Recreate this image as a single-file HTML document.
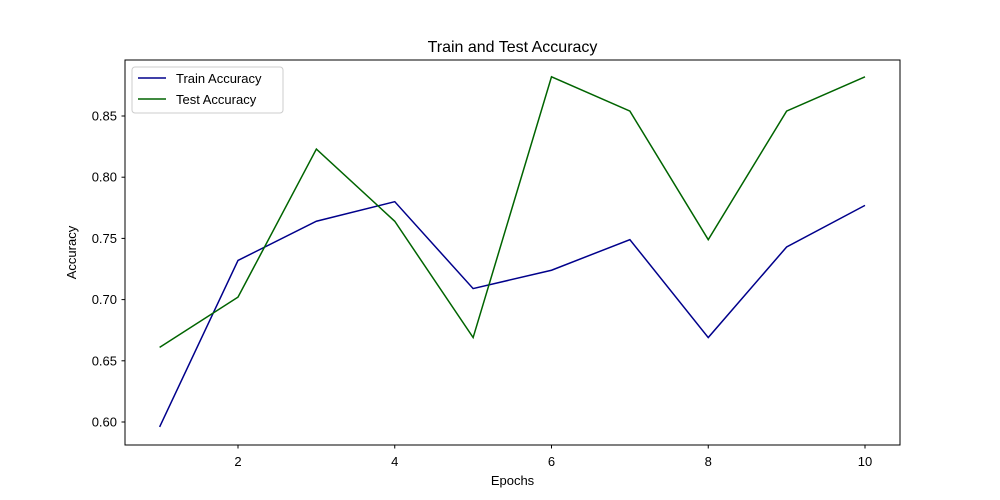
<!DOCTYPE html>
<html><head><meta charset="utf-8"><style>
html,body{margin:0;padding:0;background:#fff;}
svg{display:block;font-family:"Liberation Sans","DejaVu Sans",sans-serif;}
</style></head><body>
<svg id="chart" width="1000" height="500" viewBox="0 0 1000 500">
<rect x="0" y="0" width="1000" height="500" fill="#fff"/>
<text x="512.5" y="52" text-anchor="middle" font-size="16">Train and Test Accuracy</text>
<g id="grid"></g>
<g id="lines"></g>
<rect x="125" y="60" width="775" height="385" fill="none" stroke="#000" stroke-width="1"/>
<g id="xticks"></g><g id="yticks"></g>
<text x="512.5" y="485" text-anchor="middle" font-size="13">Epochs</text>
<text transform="translate(76,252.5) rotate(-90)" text-anchor="middle" font-size="13">Accuracy</text>
<g>
<rect x="132" y="67" width="151" height="46" rx="3" fill="#fff" fill-opacity="0.8" stroke="#ccc"/>
<line x1="138" y1="78" x2="166" y2="78" stroke="#00008b" stroke-width="1.5"/>
<text x="176" y="83" font-size="13">Train Accuracy</text>
<line x1="138" y1="99" x2="166" y2="99" stroke="#006400" stroke-width="1.5"/>
<text x="176" y="104" font-size="13">Test Accuracy</text>
</g>
</svg>
<script>
const epochs = [1,2,3,4,5,6,7,8,9,10];
const trainAcc = [0.596,0.732,0.764,0.780,0.709,0.724,0.749,0.669,0.743,0.777];
const testAcc = [0.661,0.702,0.823,0.764,0.669,0.882,0.854,0.749,0.854,0.882];
const xTicks = [2,4,6,8,10];
const yTicks = [0.60,0.65,0.70,0.75,0.80,0.85];

const NS = "http://www.w3.org/2000/svg";
function sx(v){ return 238 + (v-2)*78.375; }
function sy(v){ return 422 - (v-0.60)*1224; }
const xg = document.getElementById('xticks');
const yg = document.getElementById('yticks');
xTicks.forEach(t=>{
  const l=document.createElementNS(NS,'line');
  l.setAttribute('x1',sx(t));l.setAttribute('x2',sx(t));l.setAttribute('y1',445);l.setAttribute('y2',448.5);l.setAttribute('stroke','#000');
  
  
  xg.appendChild(l);
  const tx=document.createElementNS(NS,'text');
  tx.setAttribute('x',sx(t));tx.setAttribute('y',466);tx.setAttribute('text-anchor','middle');tx.setAttribute('font-size','13');
  tx.textContent=t;
  
  
  xg.appendChild(tx);
});
yTicks.forEach(t=>{
  const l=document.createElementNS(NS,'line');
  l.setAttribute('x1',121.5);l.setAttribute('x2',125);l.setAttribute('y1',sy(t));l.setAttribute('y2',sy(t));l.setAttribute('stroke','#000');
  
  
  yg.appendChild(l);
  const tx=document.createElementNS(NS,'text');
  tx.setAttribute('x',117);tx.setAttribute('y',sy(t)+4.5);tx.setAttribute('text-anchor','end');tx.setAttribute('font-size','13');
  tx.textContent=t.toFixed(2);
  
  
  yg.appendChild(tx);
});
const lg=document.getElementById('lines');
function drawLine(vals,color,name){
  const p=document.createElementNS(NS,'polyline');
  p.setAttribute('points',vals.map((v,i)=>sx(epochs[i])+','+sy(v)).join(' '));
  p.setAttribute('fill','none');p.setAttribute('stroke',color);p.setAttribute('stroke-width','1.5');
  
  
  lg.appendChild(p);
}
drawLine(trainAcc,'#00008b','train-accuracy-line');
drawLine(testAcc,'#006400','test-accuracy-line');
</script>
</body></html>
